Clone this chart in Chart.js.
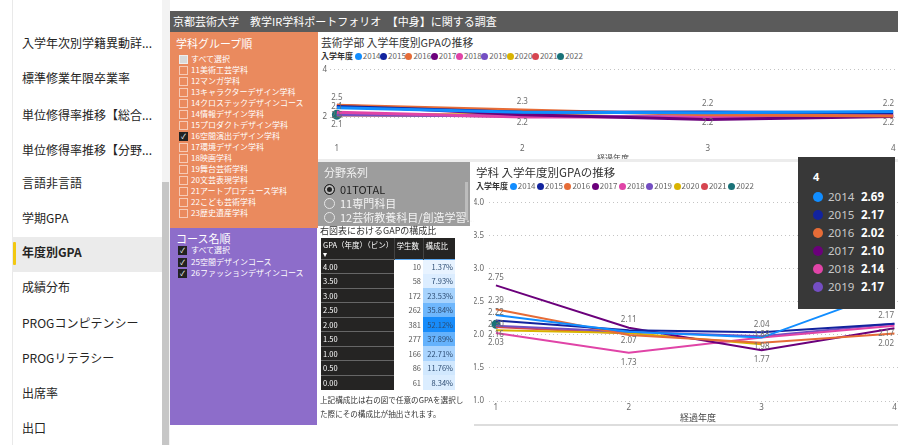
<!DOCTYPE html>
<html>
<head>
<meta charset="utf-8">
<script src="https://cdn.jsdelivr.net/npm/chart.js@4.4.1/dist/chart.umd.min.js"></script>
<style>
body{margin:0;width:898px;height:445px;overflow:hidden;background:#fff;position:relative;font-family:"Noto Sans CJK JP","Noto Sans",sans-serif;color:#252423}
.a{position:absolute;white-space:nowrap}
.nav{font-size:12px;left:22px;color:#252423}
#header{left:170px;top:11px;width:728px;height:21px;background:#5b5b5b;color:#fff;font-size:11px;line-height:21px;padding-left:3px;box-sizing:border-box}
#orange{left:170px;top:32px;width:148px;height:196px;background:#ea8a5e}
#purple{left:170px;top:228px;width:147px;height:197px;background:#8d6dca}
.ptitle{font-size:11px;color:#fff}
.cb{width:7px;height:7px;border:1px solid rgba(255,255,255,.55)}
.cb.on{background:#222;border-color:#222;color:#fff;font-size:7px;line-height:7px;text-align:center}
.cb.part{background:#d9d9d9;border-color:#eee}
.cbt{font-size:8px;color:#fff}
#slicer{left:318px;top:162px;width:152px;height:64px;background:#9d9d9d}
.rad{width:9px;height:9px;border-radius:50%;border:1px solid #e6e6e6}
.rad.on{background:#222;border-color:#222;box-shadow:inset 0 0 0 2px #bbb}
table{border-collapse:collapse;font-size:7.5px;table-layout:fixed;width:134px;font-family:"Noto Sans CJK JP",sans-serif}
td{height:14.5px;padding:0 2px;box-sizing:border-box;overflow:hidden;white-space:nowrap}
.card{background:#fff}
.ctitle{color:#333}
.leg{font-size:8px;color:#666}
.leg b{color:#333;font-weight:bold}
.dot{display:inline-block;width:7px;height:7px;border-radius:50%;vertical-align:-1px;margin-right:1px}
#tip{position:absolute;left:798px;top:157px;width:97px;height:152px;background:#383838;color:#fff;display:none;box-sizing:border-box;padding:12px 0 0 15px;font-family:"Noto Sans",sans-serif}
#tip .tt{font-size:11px;font-weight:bold;height:19px}
#tip .tr{height:18px;font-size:11.5px;line-height:18px}
#tip .td{display:inline-block;width:10px;height:10px;border-radius:50%;vertical-align:-1px;margin-right:5px}
#tip .ty{color:#c8c8c8;display:inline-block;width:33px}
#tip .tv{font-weight:bold}
</style>
</head>
<body>
<div class="a" style="left:12px;top:0;width:1px;height:445px;background:#e9e9e9"></div>
<div class="a" style="left:12px;top:237px;width:150px;height:35px;background:#ebebeb"></div>
<div class="a" style="left:13px;top:242px;width:3px;height:23px;background:#f2c811;border-radius:1px"></div>
<div class="a" style="left:162px;top:0;width:8px;height:445px;background:#f3f3f3"></div>
<div class="a" style="left:162px;top:182px;width:7px;height:263px;background:#c6c6c6"></div>
<div id="nav"></div>

<div id="header" class="a">京都芸術大学　教学IR学科ポートフォリオ　【中身】に関する調査</div>
<div id="orange" class="a"></div>
<div class="a ptitle" style="left:176px;top:35px">学科グループ順</div>
<div id="deptList"></div>
<div id="purple" class="a"></div>
<div class="a ptitle" style="left:176px;top:230px">コース名順</div>
<div id="courseList"></div>

<div class="a card" style="left:318px;top:32px;width:580px;height:127px"></div>
<div class="a ctitle" style="left:321px;top:34px;font-size:10.8px">芸術学部 入学年度別GPAの推移</div>
<div class="a leg" id="legTop" style="left:321px;top:50px"></div>
<canvas id="topChart" class="a" width="610" height="96" style="left:318px;top:62px"></canvas>
<div class="a leg" style="left:597px;top:152px;color:#444">経過年度</div>
<div class="a" style="left:318px;top:159px;width:580px;height:3px;background:#ececec"></div>

<div id="slicer" class="a"></div>
<div class="a" style="left:324px;top:164px;font-size:11px;color:#f2f2f2">分野系列</div>
<div class="a" style="left:465px;top:182px;width:3px;height:38px;background:#bcbcbc"></div>
<div id="radios"></div>

<div class="a" style="left:320px;top:224px;font-size:9px;color:#333">右図表におけるGAPの構成比</div>
<table class="a" id="gpaTable" style="left:321px;top:238px"></table>
<div class="a" style="left:320px;top:393px;font-size:7.6px;line-height:14px;color:#333;white-space:normal;width:146px">上記構成比は右の図で任意のGPAを選択した際にその構成比が抽出されます。</div>

<div class="a card" style="left:474px;top:162px;width:424px;height:262px;border-bottom:2px solid #ddd"></div>
<div class="a ctitle" style="left:476px;top:164px;font-size:11.5px">学科 入学年度別GPAの推移</div>
<div class="a leg" id="legBottom" style="left:476px;top:180px"></div>
<canvas id="bottomChart" class="a" width="453" height="220" style="left:474px;top:193px"></canvas>
<div class="a" style="left:680px;top:411px;font-size:9px;color:#444">経過年度</div>
<div id="tip"></div>

<script>
const navItems = ['入学年次別学籍異動詳...', '標準修業年限卒業率', '単位修得率推移【総合...', '単位修得率推移【分野...', '言語非言語', '学期GPA', '年度別GPA', '成績分布', 'PROGコンピテンシー', 'PROGリテラシー', '出席率', '出口'];
const departments = ['すべて選択', '11美術工芸学科', '12マンガ学科', '13キャラクターデザイン学科', '14クロステックデザインコース', '14情報デザイン学科', '15プロダクトデザイン学科', '16空間演出デザイン学科', '17環境デザイン学科', '18映画学科', '19舞台芸術学科', '20文芸表現学科', '21アートプロデュース学科', '22こども芸術学科', '23歴史遺産学科'];
const courses = ['すべて選択', '25空間デザインコース', '26ファッションデザインコース'];
const fields = ['01TOTAL', '11専門科目', '12芸術教養科目/創造学習...'];

const gpaBins = ['4.00', '3.50', '3.00', '2.50', '2.00', '1.50', '1.00', '0.50', '0.00'];
const studentCounts = [10, 58, 172, 262, 381, 277, 166, 86, 61];
const shares = [1.37, 7.93, 23.53, 35.84, 52.12, 37.89, 22.71, 11.76, 8.34];

const entryYears = ['2014', '2015', '2016', '2017', '2018', '2019', '2020', '2021', '2022'];
const elapsedYears = [1, 2, 3, 4];
// faculty wide GPA (top chart)
const facultyGpa = [
  [2.40, 2.20, 2.18, 2.24],
  [2.45, 2.20, 2.22, 2.18],
  [2.50, 2.30, 2.10, 2.05],
  [2.50, 2.10, 1.90, 2.02],
  [2.20, 2.00, 2.00, 2.08],
  [2.10, 2.05, 2.00, 2.06],
  [2.10, 2.10, 1.95, null],
  [2.10, 2.05, null, null],
  [2.10, null, null, null],
];
// department GPA (bottom chart)
const deptGpa = [
  [2.30, 2.05, 1.96, 2.69],
  [2.22, 2.07, 2.04, 2.17],
  [2.39, 2.00, 1.88, 2.02],
  [2.75, 2.11, 1.77, 2.10],
  [2.03, 1.73, 1.96, 2.14],
  [2.14, 2.05, 1.98, 2.17],
  [2.07, 2.03, 1.86, null],
  [2.12, 2.02, null, null],
  [2.16, null, null, null],
];
const seriesColors = ['#118dff', '#12239e', '#e66c37', '#6b007b', '#e044a7', '#744ec2', '#d9b300', '#d64550', '#197278'];

// side panels
document.getElementById('nav').innerHTML = navItems.map((t, i) =>
  `<div class="a nav" style="top:${[34,69,106,141,174,209,243,278,314,349,384,419][i]}px;${t === '年度別GPA' ? 'font-weight:bold' : ''}">${t}</div>`).join('');

document.getElementById('deptList').innerHTML = departments.map((t, i) => {
  const y = 55 + i * 11;
  const cls = i === 0 ? 'cb part' : (t.startsWith('16') ? 'cb on' : 'cb');
  return `<div class="a ${cls}" style="left:179px;top:${y}px">${cls === 'cb on' ? '✓' : ''}</div><div class="a cbt" style="left:191px;top:${y - 2}px">${t}</div>`;
}).join('');

document.getElementById('courseList').innerHTML = courses.map((t, i) => {
  const y = 246 + i * 11.5;
  return `<div class="a cb on" style="left:178px;top:${y}px">✓</div><div class="a cbt" style="left:191px;top:${y - 2}px">${t}</div>`;
}).join('');

document.getElementById('radios').innerHTML = fields.map((t, i) => {
  const y = 184 + i * 14;
  return `<div class="a rad ${i === 0 ? 'on' : ''}" style="left:324px;top:${y}px"></div><div class="a" style="left:340px;top:${y - 3}px;font-size:11px;color:${i === 0 ? '#222' : '#f4f4f4'}">${t}</div>`;
}).join('');

// GPA share table
function shareColor(v) {
  const t = (v - Math.min(...shares)) / (Math.max(...shares) - Math.min(...shares));
  const c0 = [232, 243, 255], c1 = [24, 140, 250];
  const c = c0.map((a, k) => Math.round(a + (c1[k] - a) * Math.pow(t, 1.4)));
  return `rgb(${c.join(',')})`;
}
let rows = `<colgroup><col style="width:73px"><col style="width:29px"><col style="width:32px"></colgroup>
<tr style="background:#252423;color:#fff;border-bottom:1px solid #5aa7f0">
<td style="height:21px;vertical-align:top;padding-top:2px;line-height:9px">GPA（年度）（ビン）<br>▾</td>
<td style="vertical-align:top;padding-top:2px;border-left:1px solid #444">学生数</td>
<td style="vertical-align:top;padding-top:2px;border-left:1px solid #444">構成比</td></tr>`;
gpaBins.forEach((b, i) => {
  rows += `<tr><td style="background:#252423;color:#fff;border-top:1px solid #666">${b}</td>
<td style="text-align:right;color:#555;background:#fff">${studentCounts[i]}</td>
<td style="text-align:right;color:#2c4c73;background:${shareColor(shares[i])}">${shares[i].toFixed(2)}%</td></tr>`;
});
document.getElementById('gpaTable').innerHTML = rows;

// legends
function legendHtml(gap) {
  return '<b>入学年度</b> ' + entryYears.map((y, i) =>
    `<span style="display:inline-block;width:${gap}px"><span class="dot" style="background:${seriesColors[i]}"></span>${y}</span>`).join('');
}
document.getElementById('legTop').innerHTML = legendHtml(25.3);
document.getElementById('legBottom').innerHTML = legendHtml(27.3);

// value labels drawn next to points, skipping ones that would collide
const valueLabels = {
  id: 'valueLabels',
  afterDatasetsDraw(chart, args, opts) {
    const ctx = chart.ctx;
    const placed = [];
    ctx.save();
    ctx.font = opts.size + 'px "Noto Sans", sans-serif';
    ctx.fillStyle = '#6e6e6e';
    ctx.textAlign = 'center';
    ctx.textBaseline = 'middle';
    for (let i = 0; i < elapsedYears.length; i++) {
      const pts = [];
      chart.data.datasets.forEach((ds, d) => {
        const el = chart.getDatasetMeta(d).data[i];
        if (!el || ds.data[i].y == null) return;
        pts.push({ x: el.x, y: el.y, v: ds.data[i].y });
      });
      pts.sort((a, b) => a.y - b.y);
      pts.forEach((p, k) => {
        const txt = p.v.toFixed(opts.decimals);
        const w = ctx.measureText(txt).width;
        const cx = Math.min(p.x, opts.maxX - w / 2);
        const tries = k === pts.length - 1 && k > 0 ? [p.y + 10, p.y - 8] : [p.y - 8, p.y + 10];
        for (const cy of tries) {
          const r = { x1: cx - w / 2, x2: cx + w / 2, y1: cy - opts.size / 2, y2: cy + opts.size / 2 };
          if (!placed.some(q => r.x1 < q.x2 && r.x2 > q.x1 && r.y1 < q.y2 && r.y2 > q.y1)) {
            placed.push(r);
            ctx.fillText(txt, cx, cy);
            break;
          }
        }
      });
    }
    ctx.restore();
  }
};

function buildDatasets(table, width) {
  return table.map((vals, s) => {
    const count = vals.filter(v => v != null).length;
    return {
      label: entryYears[s],
      data: vals.map((v, i) => ({ x: elapsedYears[i], y: v })),
      borderColor: seriesColors[s],
      backgroundColor: seriesColors[s],
      borderWidth: width,
      pointRadius: count === 1 ? 3.5 : 0,
      tension: 0,
    };
  });
}

function externalTip(context) {
  const tooltip = context.tooltip;
  const el = document.getElementById('tip');
  if (tooltip.opacity === 0) { el.style.display = 'none'; return; }
  let html = `<div class="tt">${tooltip.title[0]}</div>`;
  tooltip.dataPoints.forEach(dp => {
    html += `<div class="tr"><span class="td" style="background:${dp.dataset.borderColor}"></span><span class="ty">${dp.dataset.label}</span><span class="tv">${dp.parsed.y.toFixed(2)}</span></div>`;
  });
  el.innerHTML = html;
  el.style.display = 'block';
}

const tickFont = { family: '"Noto Sans", sans-serif', size: 8 };

new Chart(document.getElementById('topChart'), {
  type: 'line',
  data: { datasets: buildDatasets(facultyGpa, 3) },
  plugins: [valueLabels],
  options: {
    responsive: false,
    animation: false,
    events: [],
    layout: { padding: { top: 7, left: 0, right: 0, bottom: 0 } },
    plugins: {
      legend: { display: false },
      tooltip: { enabled: false },
      valueLabels: { decimals: 1, size: 8, maxX: 898 - 318 - 4 },
    },
    scales: {
      x: {
        type: 'linear', min: 0.963, max: 4.15,
        ticks: { stepSize: 1, includeBounds: false, color: '#666', font: tickFont, padding: 8 },
        grid: { display: false, drawTicks: false },
        border: { display: false },
        afterFit: s => { s.height = 22; },
      },
      y: {
        min: 1.2, max: 4,
        ticks: { stepSize: 2, includeBounds: false, color: '#666', font: tickFont, padding: 3 },
        grid: { color: '#c4c4c4', drawTicks: false },
        border: { display: false, dash: [1, 3] },
        afterFit: s => { s.width = 12; },
      },
    },
  },
});

const bottomChart = new Chart(document.getElementById('bottomChart'), {
  type: 'line',
  data: { datasets: buildDatasets(deptGpa, 2) },
  plugins: [valueLabels],
  options: {
    responsive: false,
    animation: false,
    events: [],
    layout: { padding: { top: 7, left: 0, right: 0, bottom: 0 } },
    plugins: {
      legend: { display: false },
      tooltip: { enabled: false, mode: 'index', external: externalTip },
      valueLabels: { decimals: 2, size: 8, maxX: 898 - 474 - 4 },
    },
    scales: {
      x: {
        type: 'linear', min: 0.948, max: 4.2,
        ticks: { stepSize: 1, includeBounds: false, color: '#666', font: tickFont, padding: 2 },
        grid: { display: false, drawTicks: false },
        border: { display: false },
        afterFit: s => { s.height = 12; },
      },
      y: {
        min: 1, max: 4,
        ticks: { stepSize: 0.5, color: '#666', font: tickFont, padding: 5, callback: v => v.toFixed(1) },
        grid: { color: '#c4c4c4', drawTicks: false },
        border: { display: false, dash: [1, 3] },
        afterFit: s => { s.width = 15; },
      },
    },
  },
});

// hover state shown in the reference: elapsed year 4
const activeIdx = 3;
const active = deptGpa.map((vals, d) => ({ datasetIndex: d, index: activeIdx }))
  .filter(a => deptGpa[a.datasetIndex][activeIdx] != null);
bottomChart.tooltip.setActiveElements(active, { x: 880, y: 300 });
bottomChart.update('none');
</script>
</body>
</html>
